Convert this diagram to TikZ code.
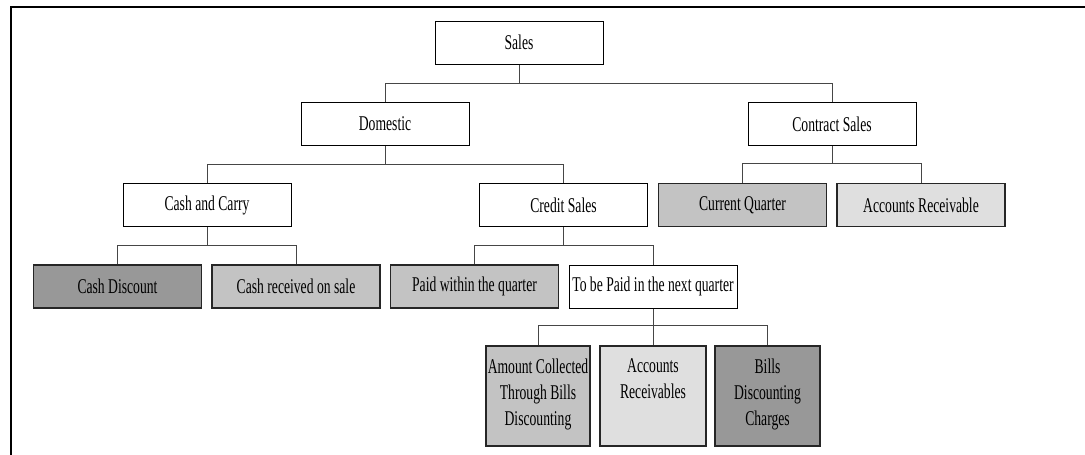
\documentclass[tikz,border=0pt]{standalone}
\usepackage{fontspec}
\setmainfont[FakeStretch=0.65]{Liberation Serif}
\definecolor{gdark}{RGB}{152,152,152}
\definecolor{gmid}{RGB}{195,195,195}
\definecolor{glight}{RGB}{223,223,223}
\definecolor{linkc}{RGB}{70,70,70}
\begin{document}
\begin{tikzpicture}[x=1pt,y=-1pt,
  box/.style={draw=black,line width=1pt,fill=white,inner sep=0pt,
    minimum width=168pt,minimum height=43pt,
    font=\fontsize{21}{26}\selectfont},
  shaded/.style={box,line width=1.4pt,draw=black!85},
  tallbox/.style={shaded,minimum height=100pt},
  link/.style={draw=linkc,line width=1pt},
  frame/.style={draw=black,line width=2pt}]
\useasboundingbox (0,0) rectangle (1085,455);
\coordinate (ftl) at (11,7);
\coordinate (ftr) at (1085,7);
\coordinate (fbl) at (11,455);
\draw[frame] (ftr) -- (ftl) -- (fbl);

\node[box] (sales) at (519,42.5) {Sales};
\node[box] (dom) at (385,124) {Domestic};
\node[box] (con) at (832,124) {Contract Sales};
\node[box] (cac) at (207,205) {Cash and Carry};
\node[box] (cred) at (563.5,205) {Credit Sales};
\node[shaded,fill=gmid] (cq) at (742.5,205) {Current Quarter};
\node[shaded,fill=glight] (ar) at (921,205) {Accounts Receivable};
\node[shaded,fill=gdark] (cd) at (117.5,286.5) {Cash Discount};
\node[shaded,fill=gmid] (crs) at (296,286.5) {Cash received on sale};
\node[shaded,fill=gmid] (pwq) at (474.5,286.5) {Paid within the quarter};
\node[box] (tbp) at (653,286.5) {To be Paid in the next quarter};
\node[tallbox,fill=gmid,minimum width=104pt] (acb) at (538,396)
  {\parbox[c][100pt][t]{104pt}{\centering\vspace*{13pt}Amount Collected\\Through Bills\\Discounting}};
\node[tallbox,fill=glight,minimum width=106pt] (ars) at (653,396)
  {\parbox[c][100pt][t]{106pt}{\centering\vspace*{13pt}Accounts\\Receivables}};
\node[tallbox,fill=gdark,minimum width=105pt] (bdc) at (767.5,396)
  {\parbox[c][100pt][t]{105pt}{\centering\vspace*{13pt}Bills\\Discounting\\Charges}};

\draw[link] (sales.south) -- ++(0,19);
\draw[link] (dom.north) -- ++(0,-19) -| (con.north);
\draw[link] (dom.south) -- ++(0,18);
\draw[link] (cac.north) -- ++(0,-19) -| (cred.north);
\draw[link] (con.south) -- ++(0,18);
\draw[link] (cq.north) -- ++(0,-19) -| (ar.north);
\draw[link] (cac.south) -- ++(0,19);
\draw[link] (cd.north) -- ++(0,-19) -| (crs.north);
\draw[link] (cred.south) -- ++(0,19);
\draw[link] (pwq.north) -- ++(0,-19) -| (tbp.north);
\draw[link] (tbp.south) -- (ars.north);
\draw[link] (acb.north) -- ++(0,-20) -| (bdc.north);
\end{tikzpicture}
\end{document}
